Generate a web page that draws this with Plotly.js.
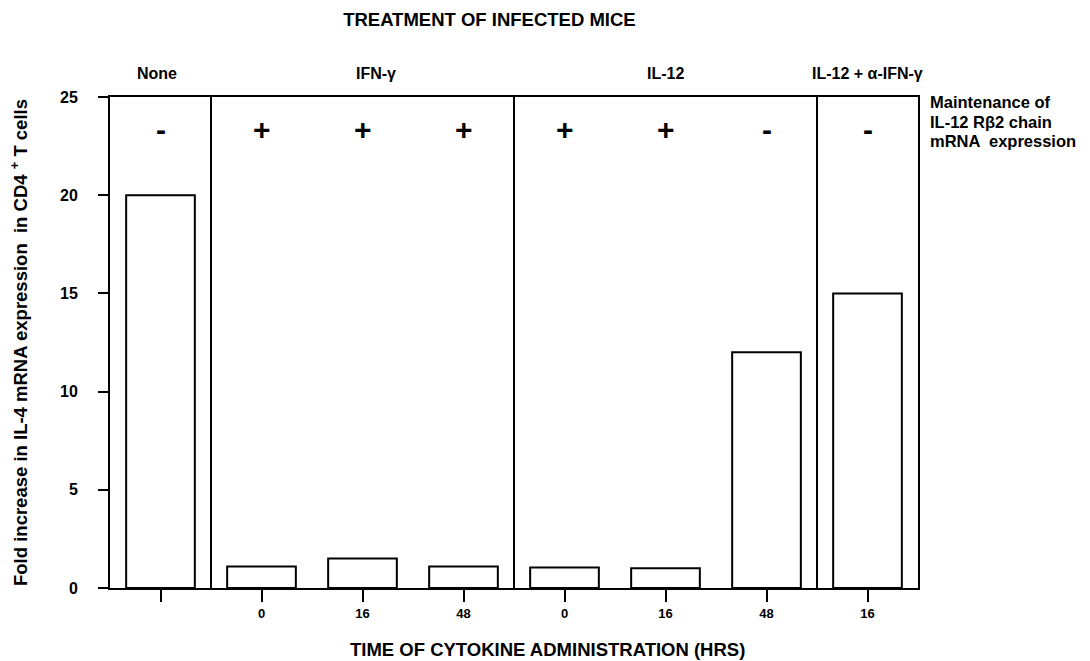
<!DOCTYPE html>
<html>
<head>
<meta charset="utf-8">
<script src="https://cdn.plot.ly/plotly-3.0.1.min.js"></script>
<style>html,body{margin:0;padding:0;background:#fff;}#chart{width:1090px;height:661px;}</style>
</head>
<body>
<div id="chart"></div>
<script>
// Data
const positions = [0, 1, 2, 3, 4, 5, 6, 7];
const tickLabels = ["", "0", "16", "48", "0", "16", "48", "16"];
const foldIncrease = [20, 1.1, 1.5, 1.1, 1.05, 1.0, 12, 15];
const maintenance = ["-", "+", "+", "+", "+", "+", "-", "-"];
const groupNames = ["None", "IFN-γ", "IL-12", "IL-12 + α-IFN-γ"];
const groupCenters = [-0.03, 2.13, 5, 7];
const groupSeparators = [0.5, 3.5, 6.5];
const maintenanceLines = ["Maintenance of", "IL-12 Rβ2 chain", "mRNA  expression"];

const FONT = "Liberation Sans, Arial, sans-serif";

const trace = {
  type: "bar",
  x: positions,
  y: foldIncrease,
  width: 0.68,
  marker: {color: "#ffffff", line: {color: "#000000", width: 2}},
  hoverinfo: "x+y"
};

const shapes = groupSeparators.map(s => ({
  type: "line", xref: "x", yref: "paper", x0: s, x1: s, y0: 0, y1: 1,
  line: {color: "#000", width: 2}
}));

const annotations = [];
groupNames.forEach((g, i) => {
  annotations.push({
    text: "<b>" + g + "</b>", x: groupCenters[i], xref: "x", y: 1.047, yref: "paper",
    showarrow: false, font: {family: FONT, size: 16, color: "#000"}, yanchor: "middle"
  });
});
maintenance.forEach((m, i) => {
  annotations.push({
    text: "<b>" + m + "</b>", x: positions[i], xref: "x", y: 0.934, yref: "paper",
    showarrow: false, font: {family: FONT, size: 30, color: "#000"}, yanchor: "middle"
  });
});
const lineYs = [0.99, 0.95, 0.911];
maintenanceLines.forEach((t, i) => {
  annotations.push({
    text: "<b>" + t + "</b>", xref: "paper", x: 1.0124, xanchor: "left",
    yref: "paper", y: lineYs[i], yanchor: "middle", align: "left", showarrow: false,
    font: {family: FONT, size: 16.5, color: "#000"}
  });
});
// x-axis title (placed as in the reference, right of centre)
annotations.push({
  text: "<b>TIME OF CYTOKINE ADMINISTRATION (HRS)</b>", xref: "paper", x: 0.541, xanchor: "center",
  yref: "paper", y: -0.126, yanchor: "middle", showarrow: false,
  font: {family: FONT, size: 18.5, color: "#000"}
});

const layout = {
  width: 1090, height: 661,
  paper_bgcolor: "#fff", plot_bgcolor: "#fff",
  margin: {l: 110, r: 172, t: 97, b: 73},
  showlegend: false,
  bargap: 0,
  title: {text: "<b>TREATMENT OF INFECTED MICE</b>", x: 0.449, xanchor: "center", y: 0.97, yanchor: "middle",
          font: {family: FONT, size: 18.5, color: "#000"}},
  xaxis: {
    range: [-0.5, 7.5], tickvals: positions, ticktext: tickLabels.map(t => t ? "<b>" + t + "</b>" : " "),
    ticks: "outside", ticklen: 12, tickwidth: 2, tickcolor: "#000",
    showline: true, linecolor: "#000", linewidth: 2, mirror: true,
    showgrid: false, zeroline: false,
    tickfont: {family: FONT, size: 13, color: "#000"}
  },
  yaxis: {
    range: [0, 25], tickvals: [0, 5, 10, 15, 20, 25], ticktext: ["0","5","10","15","20","25"].map(t => "<b>" + t + "</b>"),
    ticks: "outside", ticklen: 10, tickwidth: 2, tickcolor: "#000", ticklabelstandoff: 17,
    showline: true, linecolor: "#000", linewidth: 2, mirror: true,
    showgrid: false, zeroline: false,
    tickfont: {family: FONT, size: 16, color: "#000"},
    title: {text: "<b>Fold increase in IL-4 mRNA expression  in CD4 <sup>+</sup> T cells</b>", standoff: 28,
            font: {family: FONT, size: 18.5, color: "#000"}}
  },
  shapes: shapes,
  annotations: annotations
};

Plotly.newPlot("chart", [trace], layout, {displayModeBar: false, staticPlot: true});
</script>
</body>
</html>
